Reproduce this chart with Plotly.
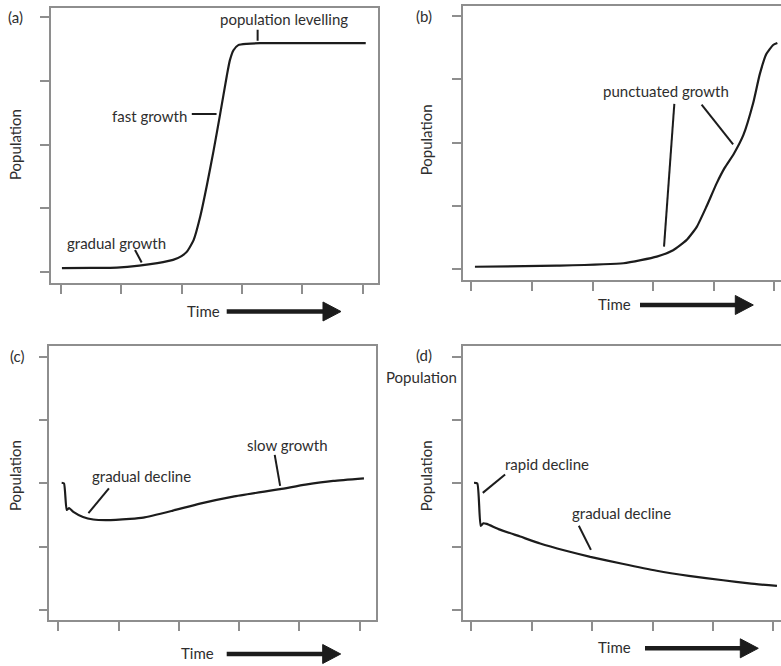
import plotly.graph_objects as go

# ---- curve values (time in tick units, population in tick units) ----
a_time = [0.02, 0.5, 0.93, 1.3, 1.6, 1.86, 2.0, 2.09, 2.2, 2.31, 2.42, 2.53,
          2.64, 2.75, 2.80, 2.86, 2.94, 3.08, 3.3, 4.0, 5.05]
a_pop = [0.06, 0.065, 0.07, 0.10, 0.14, 0.19, 0.25, 0.32, 0.50, 0.87, 1.36, 1.90,
         2.48, 3.08, 3.32, 3.48, 3.56, 3.58, 3.59, 3.59, 3.59]

b_time = [0.06, 1.41, 2.51, 3.06, 3.33, 3.55, 3.72, 3.88, 4.05, 4.18, 4.33, 4.49, 4.65,
          4.76, 4.87, 4.98, 5.05]
b_pop = [0.04, 0.057, 0.095, 0.20, 0.30, 0.46, 0.67, 0.99, 1.36, 1.60, 1.82, 2.12, 2.62,
         3.08, 3.40, 3.54, 3.57]

c_time = [0.056, 0.095, 0.14, 0.18, 0.25, 0.41, 0.58, 0.80, 1.19, 1.41, 1.9, 2.35, 2.9,
          3.68, 4.1, 4.56, 5.07]
c_pop = [2.01, 2.00, 1.58, 1.61, 1.55, 1.47, 1.43, 1.42, 1.44, 1.46, 1.57, 1.68, 1.79,
         1.91, 1.98, 2.04, 2.08]

d_time = [0.045, 0.10, 0.156, 0.20, 0.255, 0.475, 0.81, 1.14, 1.55, 1.97, 2.5, 3.07,
          3.6, 4.17, 4.6, 5.06]
d_pop = [2.01, 2.00, 1.33, 1.37, 1.36, 1.27, 1.16, 1.05, 0.94, 0.84, 0.73, 0.62,
         0.54, 0.47, 0.42, 0.38]

x_ticks = [0, 1, 2, 3, 4, 5]
y_ticks = [0, 1, 2, 3, 4]

W, H = 781, 666
FONT = "Lato"
INK = "#1c1c1c"
TEXT = "#2e2e2e"
FRAME = "#8e8e8e"


def fx(px):
    return px / W


def fy(py):
    return 1 - py / H


fig = go.Figure()

panels = [
    # (suffix, x, y, x-domain px, y-domain px (top, bottom), x range, y range, right frame)
    ("", a_time, a_pop, (50.7, 377.7), (7.5, 282.7), (-0.166, 5.248), (-0.168, 4.15), True),
    ("2", b_time, b_pop, (462.7, 781), (5.7, 280.0), (-0.142, 5.11), (-0.169, 4.16), False),
    ("3", c_time, c_pop, (49.3, 376.0), (345.7, 620.0), (-0.149, 5.27), (-0.158, 4.175), True),
    ("4", d_time, d_pop, (462.7, 781), (345.7, 620.0), (-0.142, 5.127), (-0.158, 4.175), False),
]

layout_axes = {}
for suf, xs, ys, xd, yd, xr, yr, right in panels:
    fig.add_trace(go.Scatter(
        x=xs, y=ys, mode="lines",
        line=dict(color=INK, width=2.2, shape="spline", smoothing=0.5),
        xaxis="x" + suf, yaxis="y" + suf, showlegend=False, hoverinfo="skip",
    ))
    common = dict(showgrid=False, zeroline=False, showticklabels=False,
                  ticks="outside", ticklen=9, tickwidth=1.5, tickcolor=FRAME,
                  showline=True, linecolor=FRAME, linewidth=1.6, fixedrange=True)
    layout_axes["xaxis" + suf] = dict(
        common, domain=[fx(xd[0]), min(1.0, fx(xd[1]))], range=list(xr),
        tickvals=x_ticks, anchor="y" + suf, mirror=True)
    layout_axes["yaxis" + suf] = dict(
        common, domain=[fy(yd[1]), fy(yd[0])], range=list(yr),
        tickvals=y_ticks, anchor="x" + suf, mirror=right)

fig.update_layout(**layout_axes)

annotations = []
shapes = []


def callout(suf, text, x, y, xanchor="center"):
    annotations.append(dict(
        text=text, x=x, y=y, xref="x" + suf, yref="y" + suf, showarrow=False,
        xanchor=xanchor, yanchor="middle",
        font=dict(family=FONT, size=15, color=TEXT)))


def pointer(suf, x0, y0, x1, y1):
    shapes.append(dict(type="line", xref="x" + suf, yref="y" + suf,
                       x0=x0, y0=y0, x1=x1, y1=y1,
                       line=dict(color=INK, width=2)))


# (a) sigmoid growth
callout("", "gradual growth", 0.93, 0.46)
pointer("", 1.23, 0.345, 1.34, 0.15)
callout("", "fast growth", 2.12, 2.44, xanchor="right")
pointer("", 2.17, 2.48, 2.58, 2.48)
callout("", "population levelling", 3.69, 3.97)
pointer("", 3.26, 3.80, 3.26, 3.63)

# (b) punctuated growth
callout("2", "punctuated growth", 3.22, 2.81)
pointer("2", 3.35, 2.61, 3.18, 0.357)
pointer("2", 3.80, 2.60, 4.32, 1.97)

# (c) decline then slow recovery
callout("3", "gradual decline", 1.38, 2.11)
pointer("3", 0.84, 1.92, 0.50, 1.53)
callout("3", "slow growth", 3.80, 2.61)
pointer("3", 3.59, 2.45, 3.68, 1.96)

# (d) decline
callout("4", "rapid decline", 1.25, 2.31)
pointer("4", 0.56, 2.14, 0.19, 1.85)
callout("4", "gradual decline", 2.49, 1.54)
pointer("4", 1.78, 1.33, 1.98, 0.95)


def paper_text(text, px, py, angle=0):
    annotations.append(dict(
        text=text, x=fx(px), y=fy(py), xref="paper", yref="paper", showarrow=False,
        xanchor="center", yanchor="middle", textangle=angle,
        font=dict(family=FONT, size=15, color=TEXT)))


for letter, px, py in [("(a)", 15.8, 16.7), ("(b)", 424, 16), ("(c)", 16.7, 356), ("(d)", 424, 355)]:
    paper_text(letter, px, py)
paper_text("Population", 422, 377)

for px, py in [(15, 145), (426.3, 140), (15, 476), (426.3, 476)]:
    paper_text("Population", px, py, angle=-90)


def time_arrow(label_x, y, x0, x1):
    paper_text("Time", label_x, y - 1)
    head = 18
    shapes.append(dict(type="line", xref="paper", yref="paper",
                       x0=fx(x0), x1=fx(x1 - head + 2), y0=fy(y), y1=fy(y),
                       line=dict(color=INK, width=4.5)))
    path = "M {:.5f} {:.5f} L {:.5f} {:.5f} L {:.5f} {:.5f} Z".format(
        fx(x1 - head), fy(y - 9.5), fx(x1), fy(y), fx(x1 - head), fy(y + 9.5))
    shapes.append(dict(type="path", xref="paper", yref="paper", path=path,
                       fillcolor=INK, line=dict(color=INK, width=1)))


time_arrow(203, 311.5, 226.7, 341)
time_arrow(614, 305, 640, 753.3)
time_arrow(197, 654, 226.7, 340.7)
time_arrow(614, 648.3, 645, 758.3)

fig.update_layout(
    width=W, height=H, margin=dict(l=0, r=0, t=0, b=0),
    paper_bgcolor="white", plot_bgcolor="white",
    annotations=annotations, shapes=shapes, showlegend=False,
)

fig.write_html("out.html", config={"displayModeBar": False})
